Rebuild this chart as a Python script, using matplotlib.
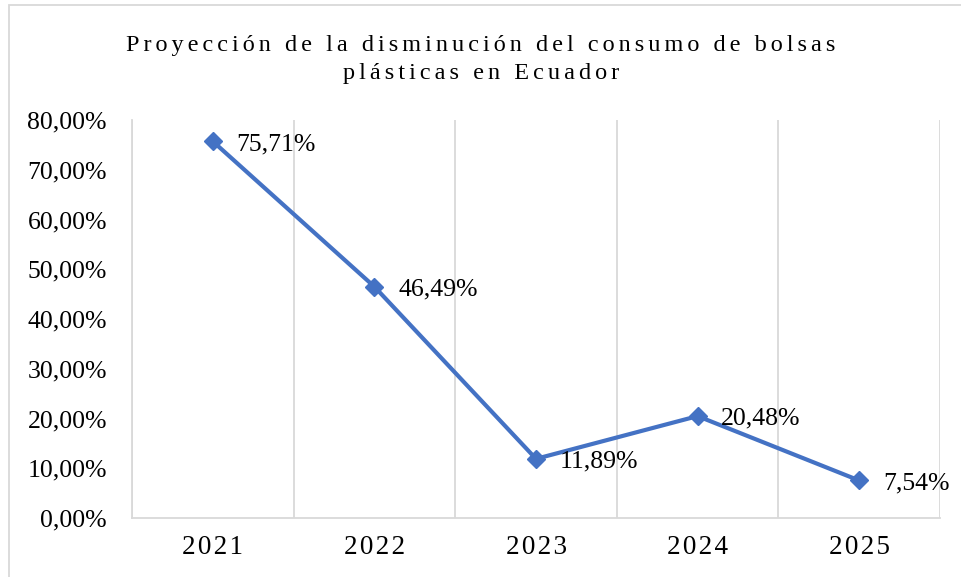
import matplotlib.pyplot as plt
from matplotlib.patches import Rectangle
from matplotlib.ticker import FixedLocator

years = ['2021', '2022', '2023', '2024', '2025']
values = [75.71, 46.49, 11.89, 20.48, 7.54]
yticks = [0, 10, 20, 30, 40, 50, 60, 70, 80]

blue = '#4472C4'
grid = '#D9D9D9'
sp = '\u200a\u200a'

plt.rcParams['font.family'] = ['Liberation Serif', 'DejaVu Serif']

fig = plt.figure(figsize=(9.62, 5.77), dpi=100)
W, H = 962, 577
ax = fig.add_axes([132 / W, (H - 518) / H, (940 - 132) / W, (518 - 120) / H])

x = list(range(len(years)))
ax.plot(x, values, color=blue, lw=3, marker='D', ms=9.5, zorder=3)

for xi, v in zip(x, values):
    ax.annotate('{:.2f}%'.format(v).replace('.', ','), (xi, v),
                xytext=(17, -2), textcoords='offset points',
                ha='left', va='center', fontsize=18.5, color='black')

ax.set_xlim(-0.5, len(years) - 0.5)
ax.set_ylim(0, 80)
ax.set_yticks(yticks)
ax.set_yticklabels(['{:.2f}%'.format(t).replace('.', ',') for t in yticks], fontsize=18.5)
ax.set_xticks(x)
ax.set_xticklabels(['\u200a'.join(y) for y in years], fontsize=19.5)
ax.xaxis.set_minor_locator(FixedLocator([i - 0.5 for i in range(len(years) + 1)]))
ax.grid(True, which='minor', axis='x', color=grid, lw=1.3)
ax.tick_params(axis='both', which='both', length=0)
ax.tick_params(axis='x', pad=12)
ax.tick_params(axis='y', pad=18)

for s in ['top', 'right']:
    ax.spines[s].set_visible(False)
for s in ['left', 'bottom']:
    ax.spines[s].set_color(grid)
    ax.spines[s].set_linewidth(1.3)

title = ['Proyección de la disminución del consumo de bolsas', 'plásticas en Ecuador']
fig.text(0.5, 1 - 46 / H, sp.join(title[0]), ha='center', va='center', fontsize=17.5)
fig.text(0.5, 1 - 74 / H, sp.join(title[1]), ha='center', va='center', fontsize=17.5)

fig.patches.append(Rectangle((9 / W, -0.1), 1.2, 1 - 5 / H + 0.1, transform=fig.transFigure,
                             fill=False, edgecolor=grid, lw=1.3))

fig.savefig('out.png', dpi=100)
